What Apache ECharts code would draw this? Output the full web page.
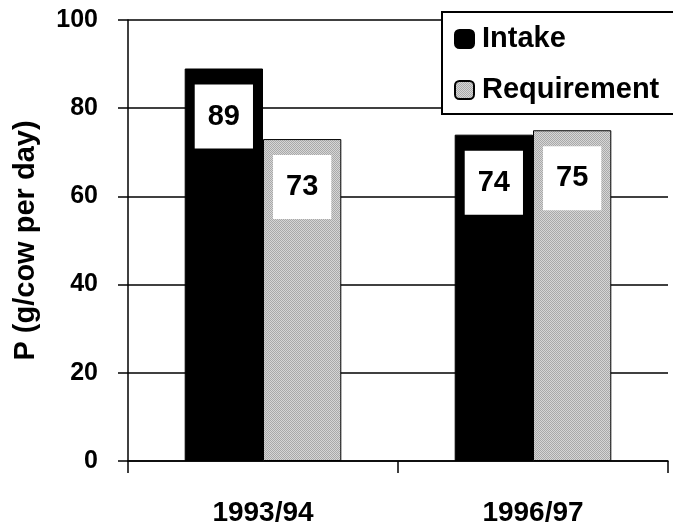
<!DOCTYPE html>
<html>
<head>
<meta charset="utf-8">
<script src="https://cdn.jsdelivr.net/npm/echarts@6/dist/echarts.min.js"></script>
<style>
html,body{margin:0;padding:0;background:#fff;}
#chart{width:673px;height:523px;}
</style>
</head>
<body>
<div id="chart"></div>
<script>
const categories = ['1993/94', '1996/97'];
const intake = [89, 74];
const requirement = [73, 75];
const seriesNames = ['Intake', 'Requirement'];
const yAxisName = 'P (g/cow per day)';

const FONT = '"Liberation Sans", Arial, Helvetica, sans-serif';

// dithered gray pattern
const pc = document.createElement('canvas');
pc.width = 2; pc.height = 2;
const pctx = pc.getContext('2d');
pctx.fillStyle = '#d6d6d6'; pctx.fillRect(0,0,2,2);
pctx.fillStyle = '#a9a9a9'; pctx.fillRect(0,0,1,1); pctx.fillRect(1,1,1,1);
const grayPattern = { image: pc, repeat: 'repeat' };

const labelCfg = {
  show: true,
  position: 'insideTop',
  distance: 16,
  color: '#000',
  fontFamily: FONT,
  fontWeight: 'bold',
  fontSize: 29,
  lineHeight: 30,
  backgroundColor: '#fff',
  padding: [17, 13, 17, 13]
};

const chart = echarts.init(document.getElementById('chart'), null, {renderer: 'canvas'});
chart.setOption({
  animation: false,
  backgroundColor: '#fff',
  textStyle: { fontFamily: FONT },
  grid: { left: 128, right: 5, top: 20, bottom: 62, containLabel: false, outerBoundsMode: 'none' },
  legend: {
    orient: 'vertical',
    left: 442, top: 12,
    padding: [12, 40, 9, 12],
    borderColor: '#000', borderWidth: 2,
    backgroundColor: '#fff',
    itemWidth: 19, itemHeight: 18, itemGap: 21,
    textStyle: { fontFamily: FONT, fontWeight: 'bold', fontSize: 29, lineHeight: 30, color: '#000', padding: [0, 0, 0, 3] },
    data: seriesNames
  },
  xAxis: {
    type: 'category',
    data: categories,
    axisLine: { lineStyle: { color: '#000', width: 1.5 } },
    axisTick: { show: true, length: 12, lineStyle: { color: '#000', width: 1.5 } },
    axisLabel: { color: '#000', fontFamily: FONT, fontWeight: 'bold', fontSize: 28, margin: 38 },
    splitLine: { show: false }
  },
  yAxis: {
    type: 'value',
    min: 0, max: 100, interval: 20,
    name: yAxisName,
    nameLocation: 'middle',
    nameGap: 88,
    nameRotate: 90,
    nameTextStyle: { color: '#000', fontFamily: FONT, fontWeight: 'bold', fontSize: 29 },
    axisLine: { show: true, lineStyle: { color: '#000', width: 1.5 } },
    axisTick: { show: true, length: 10, lineStyle: { color: '#000', width: 1.5 } },
    axisLabel: { color: '#000', fontFamily: FONT, fontWeight: 'bold', fontSize: 25, margin: 30 },
    splitLine: { show: true, lineStyle: { color: '#000', width: 1.5 } }
  },
  series: [
    {
      name: seriesNames[0], type: 'bar', data: intake,
      barGap: '0%', barCategoryGap: '42%',
      itemStyle: { color: '#000', borderColor: '#000', borderWidth: 1 },
      label: labelCfg
    },
    {
      name: seriesNames[1], type: 'bar', data: requirement,
      itemStyle: { color: grayPattern, borderColor: '#000', borderWidth: 1 },
      label: labelCfg
    }
  ]
});
</script>
</body>
</html>
